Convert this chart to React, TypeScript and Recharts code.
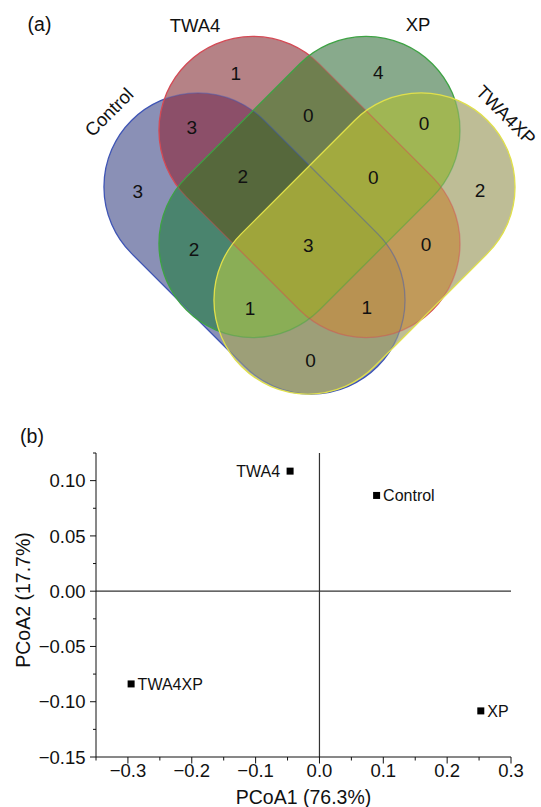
import React from 'react';
import { ScatterChart, Scatter, XAxis, YAxis, ReferenceLine } from 'recharts';

const FONT = '"Liberation Sans", Arial, Helvetica, sans-serif';
const INK = '#111';

// ---------------- (a) Venn diagram data ----------------
const vennSets = ['Control', 'TWA4', 'XP', 'TWA4XP'];
// region membership (indices into vennSets); smallest intersections first
const vennRegions: number[][] = [
  [0], [1], [2], [3],
  [0, 1], [1, 2], [2, 3], [0, 2], [1, 3], [0, 3],
  [0, 1, 2], [1, 2, 3], [0, 2, 3], [0, 1, 3],
  [0, 1, 2, 3],
];
const vennCounts = [3, 1, 4, 2, 3, 0, 0, 2, 0, 0, 2, 0, 1, 1, 3];

// ---------------- (a) Venn layout (panel coordinate space) ----------------
const VENN_W = 541;
const VENN_H = 420;
const setCenterX = [254.5, 309.5, 309.5, 364.5];
const setCenterY = [243.5, 187, 187, 243.5];
const setAngle = [45, 45, -45, -45];
const setStroke = ['#3f55b5', '#d44a55', '#3ea344', '#e0e04a'];
const STADIUM_HALF = 80;
const STADIUM_R = 94;
const setNameX = [109, 195, 418, 506];
const setNameY = [112, 25, 24, 115];
const setNameAngle = [-45, 0, 0, 45];
const regionLabelX = [137.7, 235.7, 378.3, 480, 191.7, 308.3, 424, 194, 426, 310.5, 242.7, 373.3, 250, 366.7, 308.3];
const regionLabelY = [190.7, 73.3, 71.7, 190, 126.7, 115, 122.7, 249.3, 244, 360, 175.7, 176.7, 307.7, 307.3, 245];
const regionColors = [
  '#8a90b6', '#b58286', '#88aa8c', '#bebd96',
  '#8c4f69', '#6f7f4f', '#a0b654', '#4a846e', '#c19a5a', '#9d9f78',
  '#56683c', '#a2aa3f', '#8aae56', '#b89252',
  '#9fa53b',
];

// ---------------- (b) PCoA data ----------------
const pcoaSamples = ['TWA4', 'Control', 'TWA4XP', 'XP'];
const pcoa1Values = [-0.046, 0.0895, -0.295, 0.2527];
const pcoa2Values = [0.1086, 0.0866, -0.0839, -0.1083];
const xTickValues = [-0.35, -0.3, -0.25, -0.2, -0.15, -0.1, -0.05, 0, 0.05, 0.1, 0.15, 0.2, 0.25, 0.3];
const xTickLabels = ['', '\u22120.3', '', '\u22120.2', '', '\u22120.1', '', '0.0', '', '0.1', '', '0.2', '', '0.3'];
const yTickValues = [-0.15, -0.125, -0.1, -0.075, -0.05, -0.025, 0, 0.025, 0.05, 0.075, 0.1, 0.125];
const yTickLabels = ['\u22120.15', '', '\u22120.10', '', '\u22120.05', '', '0.00', '', '0.05', '', '0.10', ''];
const labelOnLeft = ['TWA4'];

// ---------------- derived tables ----------------
const vennSetPoints = vennSets.map((name, i) => ({
  x: setCenterX[i], y: setCenterY[i], name, idx: i, angle: setAngle[i], stroke: setStroke[i],
}));
const vennRegionPoints = vennRegions.map((sets, i) => ({
  x: regionLabelX[i], y: regionLabelY[i], sets, count: vennCounts[i], color: regionColors[i],
}));
const vennNamePoints = vennSets.map((name, i) => ({
  x: setNameX[i], y: setNameY[i], name, angle: setNameAngle[i],
}));
const pcoaPoints = pcoaSamples.map((name, i) => ({ x: pcoa1Values[i], y: pcoa2Values[i], name }));

const stadiumPath = (() => {
  const h = STADIUM_HALF, r = STADIUM_R;
  return `M ${-h} ${-r} L ${h} ${-r} A ${r} ${r} 0 0 1 ${h} ${r} L ${-h} ${r} A ${r} ${r} 0 0 1 ${-h} ${-r} Z`;
})();

// defines the set's shape (for reuse) and its clip path
const SetClip = (props: any) => {
  const { cx, cy, payload } = props;
  const i = payload.idx;
  const later = vennSets.map((_, j) => j).filter((j) => j > i);
  return (
    <g>
      <defs>
        <path id={`venn-shape-${i}`} d={stadiumPath} transform={`translate(${cx} ${cy}) rotate(${payload.angle})`} />
      </defs>
      <clipPath id={`venn-clip-${i}`}>
        <use href={`#venn-shape-${i}`} />
      </clipPath>
      {/* parts of this outline lying under later-drawn sets */}
      <mask id={`venn-free-${i}`} maskUnits="userSpaceOnUse" x={0} y={0} width={VENN_W} height={VENN_H}>
        <rect x={0} y={0} width={VENN_W} height={VENN_H} fill="#fff" />
        {later.map((j) => (
          <use key={j} href={`#venn-shape-${j}`} fill="#000" />
        ))}
      </mask>
      <mask id={`venn-covered-${i}`} maskUnits="userSpaceOnUse" x={0} y={0} width={VENN_W} height={VENN_H}>
        {later.map((j) => (
          <use key={j} href={`#venn-shape-${j}`} fill="#fff" />
        ))}
      </mask>
    </g>
  );
};

const RegionFill = (props: any) => {
  const { payload } = props;
  let el: React.ReactElement = <rect x={0} y={0} width={VENN_W} height={VENN_H} fill={payload.color} />;
  for (const s of payload.sets) {
    el = <g clipPath={`url(#venn-clip-${s})`}>{el}</g>;
  }
  return el;
};

const SetOutline = (props: any) => {
  const { cx, cy, payload } = props;
  const i = payload.idx;
  const tr = `translate(${cx} ${cy}) rotate(${payload.angle})`;
  const last = i === vennSets.length - 1;
  if (last) {
    return <path d={stadiumPath} transform={tr} fill="none" stroke={payload.stroke} strokeWidth={1.3} />;
  }
  return (
    <g>
      <g mask={`url(#venn-free-${i})`}>
        <path d={stadiumPath} transform={tr} fill="none" stroke={payload.stroke} strokeWidth={1.3} />
      </g>
      <g mask={`url(#venn-covered-${i})`}>
        <path d={stadiumPath} transform={tr} fill="none" stroke={payload.stroke} strokeWidth={1.3} strokeOpacity={0.45} />
      </g>
    </g>
  );
};

const RegionCount = (props: any) => {
  const { cx, cy, payload } = props;
  return (
    <text x={cx} y={cy} dy="0.358em" textAnchor="middle" fontSize={19} fontFamily={FONT} fill={INK}>
      {payload.count}
    </text>
  );
};

const SetName = (props: any) => {
  const { cx, cy, payload } = props;
  return (
    <text
      x={cx}
      y={cy}
      dy="0.358em"
      textAnchor="middle"
      fontSize={18.5}
      fontFamily={FONT}
      fill={INK}
      transform={payload.angle ? `rotate(${payload.angle} ${cx} ${cy})` : undefined}
    >
      {payload.name}
    </text>
  );
};

const XTick = (props: any) => {
  const { x, y, payload } = props;
  const i = xTickValues.findIndex((v) => Math.abs(v - payload.value) < 1e-9);
  const label = i >= 0 ? xTickLabels[i] : '';
  const major = label !== '';
  return (
    <g>
      <line x1={x} y1={y} x2={x} y2={y + (major ? 6.5 : 3.5)} stroke={INK} strokeWidth={1} />
      {major && (
        <text x={x} y={y + 20} textAnchor="middle" fontSize={18.5} fontFamily={FONT} fill={INK}>
          {label}
        </text>
      )}
    </g>
  );
};

const YTick = (props: any) => {
  const { x, y, payload } = props;
  const i = yTickValues.findIndex((v) => Math.abs(v - payload.value) < 1e-9);
  const label = i >= 0 ? yTickLabels[i] : '';
  const major = label !== '';
  return (
    <g>
      <line x1={x} y1={y} x2={x - (major ? 6 : 3)} y2={y} stroke={INK} strokeWidth={1} />
      {major && (
        <text x={x - 10.5} y={y} dy="0.358em" textAnchor="end" fontSize={18.5} fontFamily={FONT} fill={INK}>
          {label}
        </text>
      )}
    </g>
  );
};

const SampleMarker = (props: any) => {
  const { cx, cy, payload } = props;
  const left = labelOnLeft.includes(payload.name);
  return (
    <g>
      <rect x={cx - 3.5} y={cy - 3.5} width={7} height={7} fill="#000" />
      <text
        x={left ? cx - 10 : cx + 6.5}
        y={cy}
        dy="0.358em"
        textAnchor={left ? 'end' : 'start'}
        fontSize={16}
        fontFamily={FONT}
        fill={INK}
      >
        {payload.name}
      </text>
    </g>
  );
};

const XTitle = (props: any) => {
  const vb = props.viewBox || {};
  return (
    <text x={vb.x + vb.width / 2} y={vb.y + 47} textAnchor="middle" fontSize={19.5} fontFamily={FONT} fill={INK}>
      PCoA1 (76.3%)
    </text>
  );
};

const YTitle = (props: any) => {
  const vb = props.viewBox || {};
  const cx = vb.x + 7.5;
  const cy = vb.y + vb.height / 2 - 5;
  return (
    <text x={cx} y={cy} textAnchor="middle" fontSize={19.5} fontFamily={FONT} fill={INK} transform={`rotate(-90 ${cx} ${cy})`}>
      PCoA2 (17.7%)
    </text>
  );
};

export default function App() {
  return (
    <div style={{ position: 'absolute', left: 0, top: 0, width: 541, height: 807, background: '#fff', overflow: 'hidden' }}>
      <div style={{ position: 'absolute', left: 0, top: 0 }}>
        <ScatterChart width={VENN_W} height={VENN_H} margin={{ top: 0, right: 0, bottom: 0, left: 0 }}>
          <XAxis type="number" dataKey="x" domain={[0, VENN_W]} hide />
          <YAxis type="number" dataKey="y" domain={[0, VENN_H]} reversed hide />
          <Scatter data={vennSetPoints} shape={SetClip} isAnimationActive={false} />
          <Scatter data={vennRegionPoints} shape={RegionFill} isAnimationActive={false} />
          <Scatter data={vennSetPoints} shape={SetOutline} isAnimationActive={false} />
          <Scatter data={vennRegionPoints} shape={RegionCount} isAnimationActive={false} />
          <Scatter data={vennNamePoints} shape={SetName} isAnimationActive={false} />
        </ScatterChart>
      </div>
      <div style={{ position: 'absolute', left: 0, top: 420 }}>
        <ScatterChart width={541} height={387} margin={{ top: 33, right: 30, bottom: 0, left: 22 }}>
          <XAxis
            type="number"
            dataKey="x"
            domain={[-0.35, 0.3]}
            ticks={xTickValues}
            interval={0}
            tickSize={0}
            tickMargin={0}
            tickLine={false}
            tick={<XTick />}
            height={50}
            axisLine={{ stroke: INK, strokeWidth: 1 }}
            label={{ content: <XTitle /> }}
          />
          <YAxis
            type="number"
            dataKey="y"
            domain={[-0.15, 0.125]}
            ticks={yTickValues}
            interval={0}
            tickSize={0}
            tickMargin={0}
            tickLine={false}
            tick={<YTick />}
            width={74}
            axisLine={{ stroke: INK, strokeWidth: 1 }}
            label={{ content: <YTitle /> }}
          />
          <ReferenceLine x={0} stroke="#333" strokeWidth={1.2} />
          <ReferenceLine y={0} stroke="#333" strokeWidth={1.2} />
          <Scatter data={pcoaPoints} shape={SampleMarker} isAnimationActive={false} />
        </ScatterChart>
      </div>
      <svg width={541} height={807} style={{ position: 'absolute', left: 0, top: 0, pointerEvents: 'none' }}>
        <text x={39.5} y={31} textAnchor="middle" fontSize={19.5} fontFamily={FONT} fill={INK}>(a)</text>
        <text x={32} y={442.5} textAnchor="middle" fontSize={19.5} fontFamily={FONT} fill={INK}>(b)</text>
      </svg>
    </div>
  );
}
